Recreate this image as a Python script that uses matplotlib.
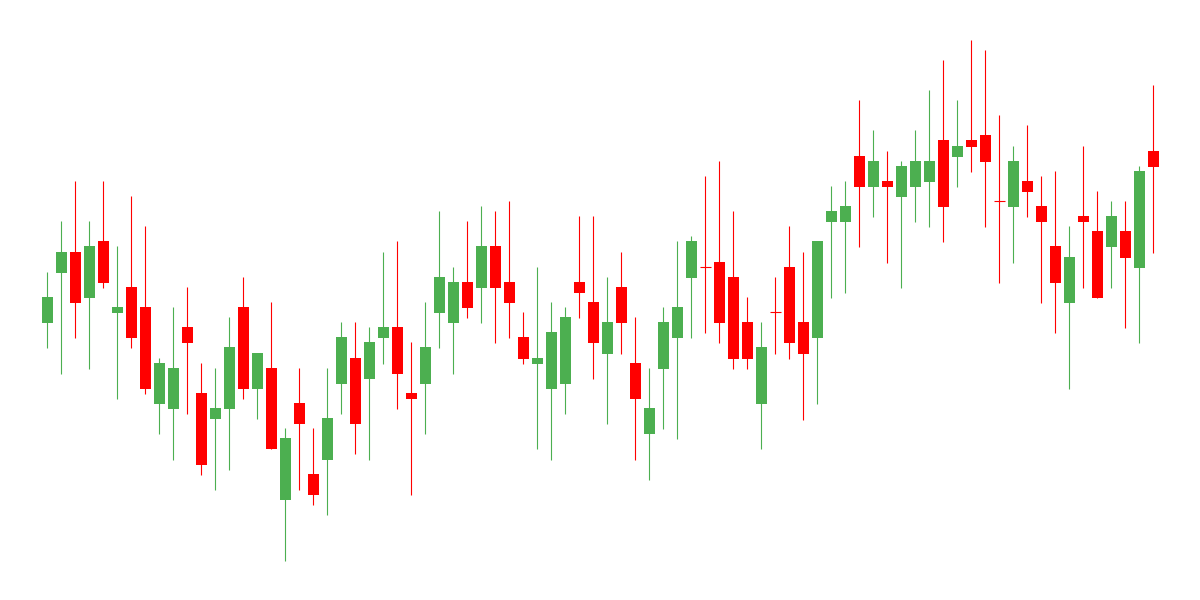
import numpy as np
import matplotlib
matplotlib.use('Agg')
import matplotlib.pyplot as plt

# OHLC por candle
opens = [277, 327.3, 348, 302.3, 359, 287.3, 313, 293, 196.3, 191.3,
         273, 207, 181.3, 191.3, 293, 211.3, 232, 100.3, 197, 126,
         140.3, 216.3, 242, 221.3, 262.3, 273, 207, 216.3, 287.3, 277.3,
         318, 312.3, 354, 318, 263, 236.3, 211.3, 216.3, 318, 298,
         246.3, 313, 237, 166.3, 231.3, 262.3, 322.3, 332.7, 338, 323,
         278, 196.3, 287.7, 333, 278, 262.3, 378.3, 378.3, 444, 413.3,
         419, 403.3, 413.3, 418.3, 460, 443.3, 460, 465, 398.7, 393.3,
         419, 394, 354, 297.3, 384, 369, 353.3, 369, 332.3, 449]
highs = [328, 379, 419, 379, 419, 354, 404, 374, 242, 293,
         313, 237, 232, 283, 323, 247, 298, 172, 232, 172,
         232, 278, 278, 273, 348, 359, 258, 298, 389, 333,
         379, 394, 389, 399, 288, 333, 298, 293, 384, 384,
         323, 348, 283, 232, 293, 359, 364, 424, 439, 389,
         303, 278, 323, 374, 348, 359, 414, 419, 500, 470,
         449, 439, 470, 510, 540, 500, 560, 550, 485, 454,
         475, 424, 429, 374, 454, 409, 399, 399, 434, 515]
lows = [252.3, 226.3, 262.3, 231.3, 312.3, 201.3, 252.3, 206.3, 166.3, 140.3,
        186.3, 125.3, 110.3, 130.3, 201.3, 181.3, 151.3, 39.3, 110.3, 95.3,
        85.3, 186.3, 146.3, 140.3, 236.3, 191.3, 105.3, 166.3, 252.3, 226.3,
        282.3, 277.3, 257.3, 262.3, 236.3, 151.3, 140.3, 186.3, 282.3, 221.3,
        176.3, 246.3, 140.3, 120.3, 171.3, 161.3, 262.3, 267.3, 257.3, 231.3,
        231.3, 151.3, 246.3, 241.3, 180.3, 196.3, 302.3, 307.3, 353.3, 383.3,
        337.3, 312.3, 378.3, 373.3, 358.3, 413.3, 428.3, 373.3, 317.3, 337.3,
        383.3, 297.3, 267.3, 211.3, 312.3, 302.3, 312.3, 272.3, 257.3, 347.3]
closes = [303, 348, 297.3, 354, 317.3, 293, 262.3, 211.3, 237, 232,
          257.3, 135.3, 192, 253, 211.3, 247, 151.3, 162, 176.3, 105.3,
          182, 263, 176.3, 258, 273, 226.3, 201.3, 253, 323, 318,
          292.3, 354, 312.3, 297.3, 241.3, 242, 268, 283, 307.3, 257.3,
          278, 277.3, 201.3, 192, 278, 293, 359, 332.7, 277.3, 241.3,
          241.3, 253, 287.7, 257.3, 246.3, 359, 389, 394, 413.3, 439,
          413.3, 434, 439, 439, 393.3, 454, 453.3, 438.3, 398.7, 439,
          408.3, 378.3, 317.3, 343, 378.3, 302.3, 384, 342.3, 429, 433.3]

up_color = '#4CAF50'
down_color = '#FF0000'

x = np.arange(len(opens))
o = np.array(opens)
h = np.array(highs)
l = np.array(lows)
c = np.array(closes)
colors = [up_color if cc > oo else down_color for oo, cc in zip(o, c)]

fig = plt.figure(figsize=(12, 6), dpi=100)
ax = fig.add_axes([0, 0, 1, 1])

# pavios (1 px)
ax.vlines(x, l, h, colors=colors, linewidth=0.8, zorder=1)

# corpos
body_w = 0.8
bottoms = np.minimum(o, c)
heights = np.abs(c - o)
ax.bar(x, heights, width=body_w, bottom=bottoms, color=colors, linewidth=0, zorder=2)

# dojis (abertura == fechamento)
doji = heights == 0
ax.hlines(o[doji], x[doji] - body_w / 2, x[doji] + body_w / 2,
          colors=[colors[i] for i in np.where(doji)[0]], linewidth=0.8, zorder=2)

ax.set_xlim(-3.38, 82.34)
ax.set_ylim(0, 600)
ax.axis('off')

fig.savefig('out.png', dpi=100, facecolor='white')
